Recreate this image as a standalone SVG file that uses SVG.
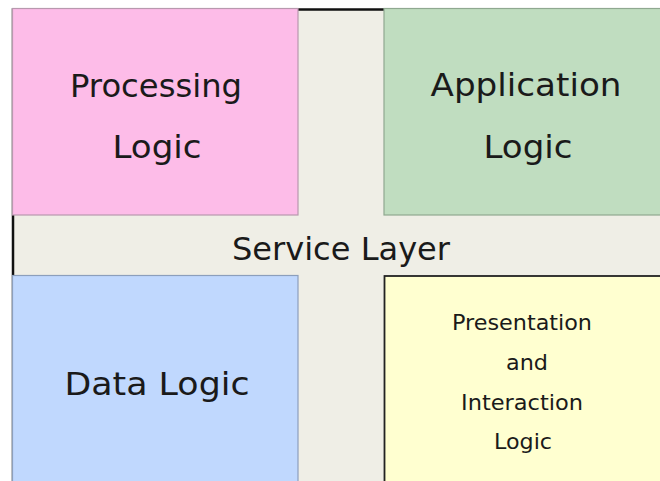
<svg xmlns="http://www.w3.org/2000/svg" width="660" height="481" viewBox="0 0 660 481">
  <style>
    .lbl { font-family: "DejaVu Sans", "Liberation Sans", sans-serif; fill: #1a1a1a; text-anchor: middle; }
    .big { font-size: 32px; }
    .small { font-size: 22px; }
  </style>
  <rect x="0" y="0" width="660" height="481" fill="#ffffff"/>
  <!-- service layer backdrop -->
  <g id="service-layer">
    <rect x="13" y="9.5" width="680" height="500" fill="#efeee6" stroke="#111" stroke-width="2.5"/>
    <text class="lbl big" x="341" y="260" textLength="218" lengthAdjust="spacingAndGlyphs">Service Layer</text>
  </g>
  <g id="processing-logic">
    <rect x="12.5" y="8.5" width="285.5" height="206.5" fill="#fdbce8" stroke="#b898ae" stroke-width="1.2"/>
    <text class="lbl big" x="156" y="97" textLength="172" lengthAdjust="spacingAndGlyphs">Processing</text>
    <text class="lbl big" x="157" y="158" textLength="89" lengthAdjust="spacingAndGlyphs">Logic</text>
  </g>
  <g id="application-logic">
    <rect x="384" y="8.5" width="290" height="206.5" fill="#c0ddc0" stroke="#8fa890" stroke-width="1.2"/>
    <text class="lbl big" x="526" y="96" textLength="191" lengthAdjust="spacingAndGlyphs">Application</text>
    <text class="lbl big" x="528" y="158" textLength="89" lengthAdjust="spacingAndGlyphs">Logic</text>
  </g>
  <g id="data-logic">
    <rect x="12.5" y="275.5" width="285.5" height="220" fill="#c0d8fe" stroke="#8c9fbc" stroke-width="1.2"/>
    <text class="lbl big" x="157" y="395" textLength="185" lengthAdjust="spacingAndGlyphs">Data Logic</text>
  </g>
  <g id="presentation-logic">
    <rect x="384.5" y="276" width="290" height="220" fill="#ffffd0" stroke="#222" stroke-width="1.8"/>
    <text class="lbl small" x="522" y="330" textLength="140" lengthAdjust="spacingAndGlyphs">Presentation</text>
    <text class="lbl small" x="527" y="370" textLength="42" lengthAdjust="spacingAndGlyphs">and</text>
    <text class="lbl small" x="522" y="410" textLength="122" lengthAdjust="spacingAndGlyphs">Interaction</text>
    <text class="lbl small" x="523" y="449" textLength="58" lengthAdjust="spacingAndGlyphs">Logic</text>
  </g>
  <g id="connectors"/>
</svg>
